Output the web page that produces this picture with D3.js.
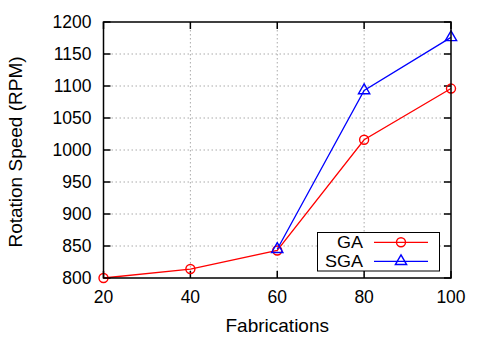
<!DOCTYPE html>
<html>
<head>
<meta charset="utf-8">
<script src="https://cdn.jsdelivr.net/npm/d3@7"></script>
<style>
  body { margin:0; background:#fff; }
  svg text { font-family: "Liberation Sans", Arial, sans-serif; fill:#000; }
</style>
</head>
<body>
<svg id="chart" width="485" height="339"></svg>
<script>
// data
const fabrications = [20, 40, 60, 80, 100];
const gaValues     = [800, 814, 843, 1016, 1096];
const sgaX         = [60, 80, 100];
const sgaValues    = [845, 1093, 1176];
const yTicks       = [800, 850, 900, 950, 1000, 1050, 1100, 1150, 1200];

const W = 485, H = 339;
const M = {left:103.5, right:34, top:22, bottom:61};
const svg = d3.select('#chart');

const x = d3.scaleLinear().domain([20, 100]).range([M.left, W - M.right]);
const y = d3.scaleLinear().domain([800, 1200]).range([H - M.bottom, M.top]);

// grid (dotted)
const grid = svg.append('g').attr('stroke', '#aaa').attr('stroke-dasharray', '1.5,2.5').attr('stroke-width', 1);
grid.selectAll('.gy').data(yTicks.slice(1, -1)).join('line')
  .attr('x1', M.left).attr('x2', W - M.right)
  .attr('y1', d => y(d)).attr('y2', d => y(d));
grid.selectAll('.gx').data(fabrications.slice(1, -1)).join('line')
  .attr('y1', M.top).attr('y2', H - M.bottom)
  .attr('x1', d => x(d)).attr('x2', d => x(d));

// axes: ticks inward and mirrored
const tk = 7;
const ticks = svg.append('g').attr('stroke', '#000').attr('stroke-width', 1.5);
yTicks.forEach(v => {
  ticks.append('line').attr('x1', M.left).attr('x2', M.left + tk).attr('y1', y(v)).attr('y2', y(v));
  ticks.append('line').attr('x1', W - M.right).attr('x2', W - M.right - tk).attr('y1', y(v)).attr('y2', y(v));
});
fabrications.forEach(v => {
  ticks.append('line').attr('y1', H - M.bottom).attr('y2', H - M.bottom - tk).attr('x1', x(v)).attr('x2', x(v));
  ticks.append('line').attr('y1', M.top).attr('y2', M.top + tk).attr('x1', x(v)).attr('x2', x(v));
});

svg.selectAll('.yl').data(yTicks).join('text')
  .attr('x', M.left - 12).attr('y', d => y(d)).attr('dy', '0.35em')
  .attr('text-anchor', 'end').attr('font-size', 17.5).text(d => d);
svg.selectAll('.xl').data(fabrications).join('text')
  .attr('x', d => x(d)).attr('y', H - M.bottom + 25)
  .attr('text-anchor', 'middle').attr('font-size', 17.5).text(d => d);

svg.append('text').attr('x', x(60)).attr('y', 331.5).attr('text-anchor', 'middle')
  .attr('font-size', 19).text('Fabrications');
svg.append('text').attr('transform', `translate(22,${(M.top + H - M.bottom) / 2 + 2}) rotate(-90)`)
  .attr('text-anchor', 'middle').attr('font-size', 19).text('Rotation Speed (RPM)');

// series
const line = d3.line();
const gaPts = fabrications.map((f, i) => [x(f), y(gaValues[i])]);
const sgaPts = sgaX.map((f, i) => [x(f), y(sgaValues[i])]);

svg.append('path').attr('d', line(gaPts)).attr('fill', 'none').attr('stroke', '#f00').attr('stroke-width', 1.3);
svg.append('path').attr('d', line(sgaPts)).attr('fill', 'none').attr('stroke', '#00f').attr('stroke-width', 1.3);

const tri = d3.symbol().type(d3.symbolTriangle).size(55);
function circ(g, px, py) {
  g.append('circle').attr('cx', px).attr('cy', py).attr('r', 4.5)
    .attr('fill', 'none').attr('stroke', '#f00').attr('stroke-width', 1.4);
}
function triM(g, px, py) {
  g.append('path').attr('d', tri()).attr('transform', `translate(${px},${py})`)
    .attr('fill', 'none').attr('stroke', '#00f').attr('stroke-width', 1.4);
}
gaPts.forEach(p => circ(svg, p[0], p[1]));
sgaPts.forEach(p => triM(svg, p[0], p[1]));

// frame
svg.append('rect').attr('x', M.left).attr('y', M.top)
  .attr('width', W - M.right - M.left).attr('height', H - M.bottom - M.top)
  .attr('fill', 'none').attr('stroke', '#000').attr('stroke-width', 1.5);

// legend
const lg = svg.append('g');
lg.append('rect').attr('x', 317.5).attr('y', 232.5).attr('width', 122).attr('height', 38.5)
  .attr('fill', '#fff').attr('stroke', '#000').attr('stroke-width', 1);
const legendItems = [{name:'GA', color:'#f00', mark:circ, y:242.3}, {name:'SGA', color:'#00f', mark:triM, y:261.3}];
legendItems.forEach(d => {
  lg.append('text').attr('x', 363).attr('y', d.y).attr('dy', '0.35em')
    .attr('text-anchor', 'end').attr('font-size', 16.5)
    .attr('textLength', d.name === 'GA' ? 26 : 38).attr('lengthAdjust', 'spacingAndGlyphs')
    .text(d.name);
  lg.append('line').attr('x1', 374).attr('x2', 428).attr('y1', d.y).attr('y2', d.y)
    .attr('stroke', d.color).attr('stroke-width', 1.3);
  d.mark(lg, 401, d.y);
});
</script>
</body>
</html>
